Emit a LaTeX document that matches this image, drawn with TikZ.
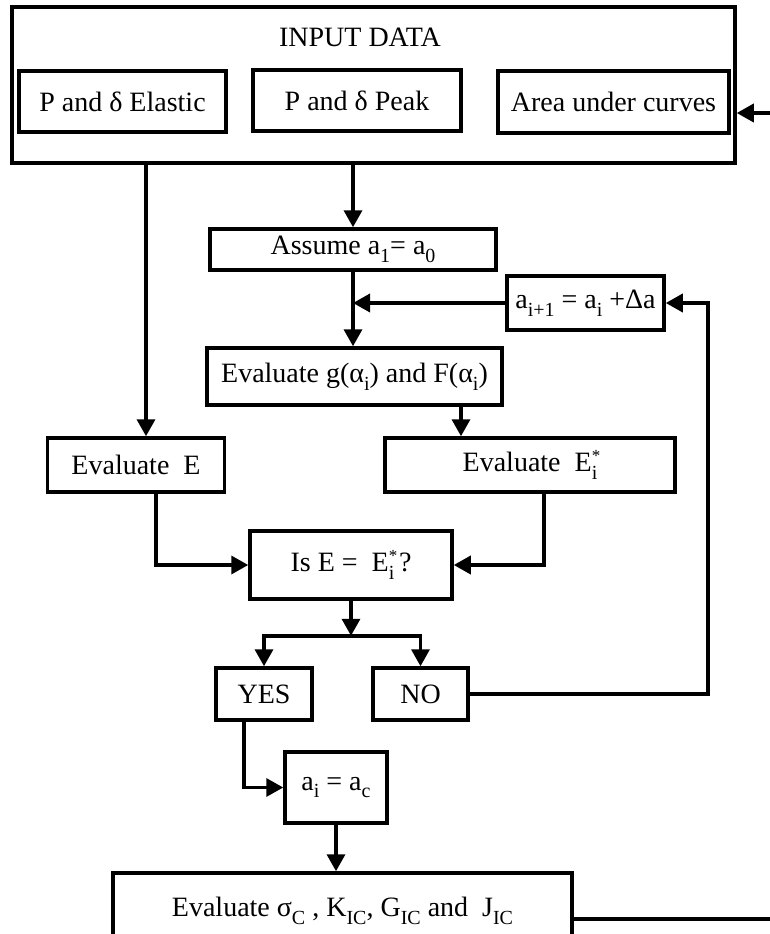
\documentclass[tikz,border=0pt]{standalone}
\usepackage{fontspec}
\setmainfont{Liberation Serif}
\usepackage{tikz}
\usetikzlibrary{arrows.meta,positioning,calc}
\newcommand{\lowsub}[1]{\raisebox{-0.6ex}{\fontsize{20}{20}\selectfont #1}}
\newcommand{\subsup}[2]{\rlap{\raisebox{0.8ex}{\fontsize{17}{17}\selectfont #2}}\lowsub{#1}}

\begin{document}
\begin{tikzpicture}[x=1pt,y=-1pt,
    box/.style={draw,line width=3.5pt,inner sep=0pt,align=center},
    arr/.style={line width=3.5pt,-{Triangle[length=17pt,width=18pt]}},
    font=\fontsize{28}{33}\selectfont]
  \useasboundingbox (0,0) rectangle (769,934);
  % Input block
  \node[box,minimum width=723,minimum height=156] (input) at (373.5,85) {};
  \node (title) at (360,37) {INPUT DATA};
  \node[box,minimum width=207,minimum height=61] (elastic) at (122.5,101.5) {P and δ Elastic};
  \node[box,minimum width=208,minimum height=61] (peak) at (357,100.5) {P and δ Peak};
  \node[box,minimum width=231,minimum height=62] (area) at (613.5,102) {Area under curves};

  % Iteration
  \node[box,minimum width=286,minimum height=41] (assume) at (353,249.5) {Assume a\lowsub{1}= a\lowsub{0}};
  \node[box,minimum width=157,minimum height=54] (next) at (585.5,303) {a\lowsub{i+1} = a\lowsub{i} +Δa};
  \node[box,minimum width=295,minimum height=57] (evalg) at (354.5,376.5) {Evaluate g(α\lowsub{i}) and F(α\lowsub{i})};
  \node[box,minimum width=177,minimum height=54] (evalE) at (136,465) {Evaluate~ E};
  \node[box,minimum width=290,minimum height=54] (evalEs) at (530,465) {Evaluate~ E\subsup{i}{*}};
  \node[box,minimum width=202,minimum height=68] (check) at (351,565) {Is E = ~E\subsup{i}{*}\,?};
  \node[box,minimum width=96,minimum height=52] (yes) at (264,694) {YES};
  \node[box,minimum width=95,minimum height=52] (no) at (420.5,694) {NO};
  \node[box,minimum width=102,minimum height=71] (crit) at (336,787.5) {a\lowsub{i} = a\lowsub{c}};
  \node[box,minimum width=459,minimum height=76] (final) at (342.5,911)
    {Evaluate σ\lowsub{C} , K\lowsub{IC}, G\lowsub{IC} and ~J\lowsub{IC}};
  \coordinate (split) at ($(check.south)+(0,35)$);

  \draw[arr] ([xshift=10pt]evalE.north |- input.south) -- ([xshift=10pt]evalE.north);
  \draw[arr] (input.south -| assume.north) -- (assume.north);
  \draw[arr] (assume.south) -- (assume.south |- evalg.north);
  \draw[arr] (next.west) -- (next.west -| assume.south);
  \draw[arr] ([xshift=-69pt]evalEs.north |- evalg.south) -- ([xshift=-69pt]evalEs.north);
  \draw[arr] ([xshift=20pt]evalE.south) |- (check.west);
  \draw[arr] ([xshift=14pt]evalEs.south) |- (check.east);
  \draw[arr] (check.south) -- (split);
  \draw[arr] (split) -| (yes.north);
  \draw[arr] (split) -| (no.north);
  \draw[arr] (no.east) -- ++(238,0) |- (next.east);
  \draw[arr] ([xshift=-20pt]yes.south) |- (crit.west);
  \draw[arr] (crit.south) -- (crit.south |- final.north);
  \draw[arr] ([yshift=-8pt]final.east) -- ++(215,0) |- ([yshift=-28pt]input.east);
\end{tikzpicture}
\end{document}
